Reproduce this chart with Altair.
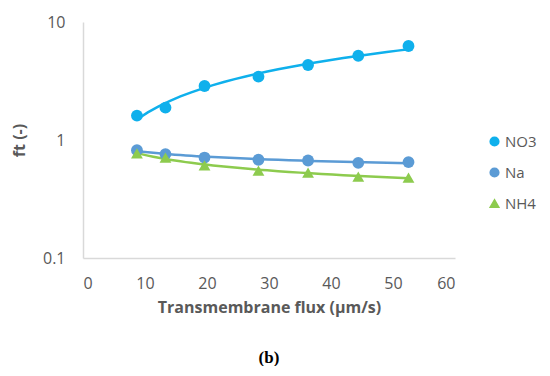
import altair as alt
import pandas as pd

flux = [8.7, 13.3, 19.6, 28.3, 36.3, 44.4, 52.5]
no3 = [1.61, 1.88, 2.87, 3.44, 4.32, 5.18, 6.26]
na = [0.82, 0.76, 0.71, 0.68, 0.67, 0.64, 0.65]
nh4 = [0.77, 0.71, 0.61, 0.55, 0.53, 0.49, 0.48]
series = ["NO3", "Na", "NH4"]
colors = ["#0FB0EC", "#5B9BD5", "#8DCB4E"]
shapes = ["circle", "circle", "triangle-up"]

rows = []
for name, vals in zip(series, [no3, na, nh4]):
    for x, y in zip(flux, vals):
        rows.append({"flux": x, "ft": y, "ion": name})
df = pd.DataFrame(rows)

xenc = alt.X("flux:Q", scale=alt.Scale(domain=[0, 60], nice=False),
             axis=alt.Axis(values=[0, 10, 20, 30, 40, 50, 60], title="Transmembrane flux (µm/s)",
                           labelPadding=17, titlePadding=8))
yenc = alt.Y("ft:Q", scale=alt.Scale(type="log", domain=[0.1, 10], nice=False),
             axis=alt.Axis(values=[0.1, 1, 10], format="~g", title="ft (-)",
                           labelPadding=18, titlePadding=15))
cscale = alt.Scale(domain=series, range=colors)

base = alt.Chart(df)

lines = base.transform_regression("flux", "ft", method="pow", groupby=["ion"]).mark_line(
    strokeWidth=2.5
).encode(x=xenc, y=yenc, color=alt.Color("ion:N", scale=cscale))

points = base.mark_point(filled=True, opacity=1, size=140).encode(
    x=xenc, y=yenc,
    color=alt.Color("ion:N", scale=cscale,
                    legend=alt.Legend(title=None, orient="none", legendX=404, legendY=112,
                                      rowPadding=15, labelFontSize=15, symbolSize=75,
                                      labelOffset=3, padding=0,
                                      labelColor="#595959", labelFont="Open Sans")),
    shape=alt.Shape("ion:N", scale=alt.Scale(domain=series, range=shapes)),
)

chart = alt.layer(lines, points).properties(
    width=372, height=236,
    padding={"left": 3, "top": 6, "right": 0, "bottom": 0},
    title=alt.TitleParams("(b)", orient="bottom", font="Liberation Serif", fontSize=17,
                          fontWeight="bold", color="#000000", offset=35),
).configure_view(stroke=None).configure_axis(
    grid=False, ticks=False, domainColor="#D9D9D9", domainWidth=1.5,
    labelFont="Open Sans", labelFontSize=16, labelColor="#595959",
    titleFont="Open Sans", titleFontSize=16, titleColor="#595959", titleFontWeight="bold",
)

chart.save("out.html", embed_options={"renderer": "svg", "actions": False})
